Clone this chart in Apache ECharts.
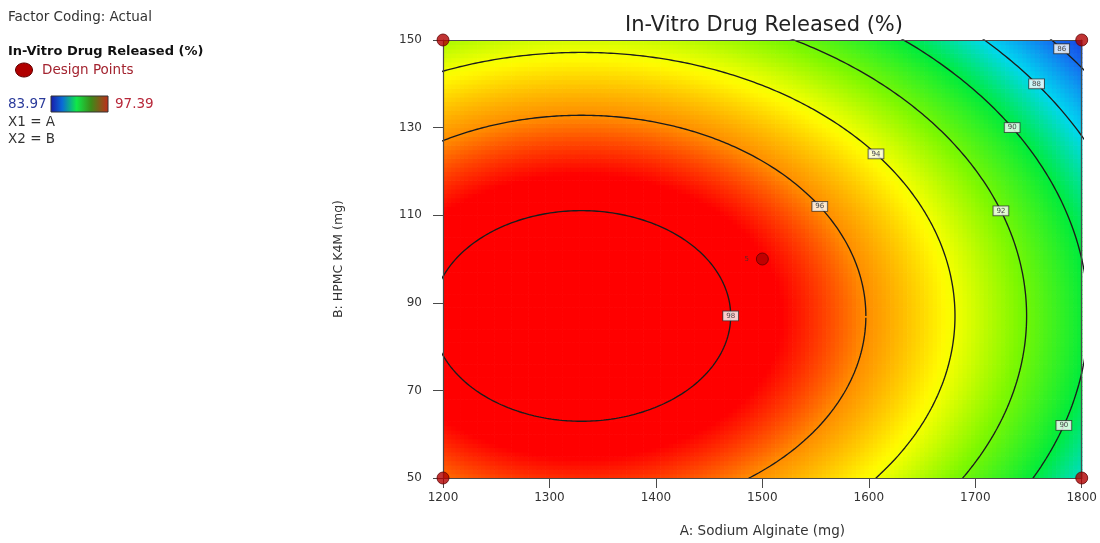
<!DOCTYPE html>
<html><head><meta charset="utf-8">
<script src="https://cdn.jsdelivr.net/npm/echarts@6/dist/echarts.min.js"></script>
<style>html,body{margin:0;padding:0;background:#fff}#c{width:1100px;height:543px}</style>
</head><body><div id="c"></div>
<script>
// ---------------- data ----------------
const chartTitle = 'In-Vitro Drug Released (%)';
const xAxisName = 'A: Sodium Alginate (mg)';
const yAxisName = 'B: HPMC K4M (mg)';
const xTicks = [1200, 1300, 1400, 1500, 1600, 1700, 1800];
const yTicks = [50, 70, 90, 110, 130, 150];
const responseRange = [83.97, 97.39];          // legend colour bar min / max
const contourLevels = [86, 88, 90, 92, 94, 96, 98];
// Fitted quadratic response model (Factor Coding: Actual); terms estimated from contour positions
// R = peak - curvA*(A - centerA)^2 - curvB*(B - centerB)^2
const modelPeak = 98.76;
const modelCenter = [1330, 87];
const modelCurvature = [3.865e-5, 1.315e-3];
// design points
const designA = [1200, 1200, 1800, 1800, 1500];
const designB = [50, 150, 50, 150, 100];
const designReps = [1, 1, 1, 1, 5];
// contour labels: level and the B value where the label sits
const labelLevels = [98, 96, 94, 92, 90, 90, 88, 86];
const labelAtB = [87, 112, 124, 111, 130, 62, 140, 148];
const legendTexts = ['Factor Coding: Actual', 'In-Vitro Drug Released (%)', 'Design Points', 'X1 = A', 'X2 = B'];

// ---------------- build ----------------
const FONT = "'DejaVu Sans', 'Open Sans', sans-serif";
function response(a, b) {
  return modelPeak - modelCurvature[0] * (a - modelCenter[0]) ** 2 - modelCurvature[1] * (b - modelCenter[1]) ** 2;
}
// colour ramp (style)
const rampStops = [[0, [20, 30, 215]], [0.15, [20, 110, 240]], [0.3, [0, 215, 240]], [0.45, [0, 236, 60]],
                   [0.62, [128, 248, 0]], [0.76, [255, 255, 0]], [0.9, [255, 138, 0]], [1, [255, 0, 0]]];
function rampColor(t) {
  for (let i = 1; i < rampStops.length; i++) {
    if (t <= rampStops[i][0]) {
      const [t0, c0] = rampStops[i - 1], [t1, c1] = rampStops[i];
      const f = (t - t0) / (t1 - t0);
      const c = c0.map((v, k) => Math.round(v + (c1[k] - v) * f));
      return 'rgb(' + c.join(',') + ')';
    }
  }
  return 'rgb(255,0,0)';
}
const rampColors = [];
for (let i = 0; i <= 60; i++) rampColors.push(rampColor(i / 60));

const stepA = 4, stepB = 1;
const surface = [];
for (let a = xTicks[0] + stepA / 2; a < xTicks[xTicks.length - 1]; a += stepA) {
  for (let b = yTicks[0] + stepB / 2; b < yTicks[yTicks.length - 1]; b += stepB) {
    surface.push([a, b, response(a, b)]);
  }
}
function contour(level) {
  const r = modelPeak - level;
  const ra = Math.sqrt(r / modelCurvature[0]), rb = Math.sqrt(r / modelCurvature[1]);
  const pts = [];
  for (let i = 0; i <= 720; i++) {
    const t = i / 720 * 2 * Math.PI;
    pts.push([modelCenter[0] + ra * Math.cos(t), modelCenter[1] + rb * Math.sin(t)]);
  }
  return pts;
}
const labelPts = labelLevels.map((lv, i) => {
  const b = labelAtB[i];
  const rem = (modelPeak - lv - modelCurvature[1] * (b - modelCenter[1]) ** 2) / modelCurvature[0];
  return { value: [modelCenter[0] + Math.sqrt(Math.max(rem, 0)), b], name: String(lv) };
});
const designPts = designA.map((a, i) => ({
  value: [a, designB[i]],
  label: { show: designReps[i] > 1, formatter: String(designReps[i]), position: 'left', distance: 7,
           fontSize: 7, color: '#333', fontFamily: FONT }
}));

const series = [
  {
    type: 'custom', name: 'surface', data: surface, dimensions: ['A', 'B', 'R'],
    encode: { x: 0, y: 1 }, clip: true, z: 1, silent: true, animation: false,
    renderItem: function (params, api) {
      const a = api.value(0), b = api.value(1);
      const p0 = api.coord([a - stepA / 2, b + stepB / 2]);
      const p1 = api.coord([a + stepA / 2, b - stepB / 2]);
      return { type: 'rect', shape: { x: p0[0], y: p0[1], width: p1[0] - p0[0] + 0.7, height: p1[1] - p0[1] + 0.7 },
               style: { fill: api.visual('color') } };
    }
  }
];
contourLevels.forEach(lv => {
  series.push({ type: 'line', data: contour(lv), showSymbol: false, symbol: 'none', clip: true, z: 3, silent: true,
                animation: false, lineStyle: { color: '#1c1c1c', width: 1.35 } });
});
series.push({
  type: 'scatter', data: labelPts, symbolSize: 0, z: 4, silent: true, animation: false,
  label: { show: true, position: 'inside', formatter: p => p.name, fontSize: 7, color: '#222', fontFamily: FONT,
           backgroundColor: '#fff', borderColor: '#333', borderWidth: 0.9, padding: [1, 3] }
});
series.push({
  type: 'scatter', data: designPts, symbol: 'circle', symbolSize: 12, z: 10, animation: false,
  itemStyle: { color: '#b00000', borderColor: '#600000', borderWidth: 1 }
});

const axisCommon = {
  axisLine: { show: true, lineStyle: { color: '#4a4a4a', width: 1.2 } },
  splitLine: { show: false }, z: 5
};
const option = {
  animation: false,
  backgroundColor: '#fff',
  grid: { left: 443, top: 40, width: 642, height: 438, show: false },
  visualMap: {
    show: false, type: 'continuous', min: responseRange[0], max: responseRange[1], dimension: 2, seriesIndex: 0,
    inRange: { color: rampColors },
    outOfRange: { color: '#ff0000' }
  },
  xAxis: [
    Object.assign({}, axisCommon, {
      type: 'value', min: xTicks[0], max: xTicks[xTicks.length - 1], interval: 100,
      axisTick: { show: true, length: 10, customValues: xTicks, lineStyle: { color: '#4a4a4a' } },
      axisLabel: { customValues: xTicks, formatter: v => String(v), margin: 14, fontSize: 12, color: '#333', fontFamily: FONT },
      name: xAxisName, nameLocation: 'middle', nameGap: 46,
      nameTextStyle: { fontSize: 13.5, color: '#333', fontFamily: FONT }
    }),
    Object.assign({}, axisCommon, {
      type: 'value', position: 'top', min: xTicks[0], max: xTicks[xTicks.length - 1],
      axisTick: { show: false }, axisLabel: { show: false }
    })
  ],
  yAxis: [
    Object.assign({}, axisCommon, {
      type: 'value', min: yTicks[0], max: yTicks[yTicks.length - 1], interval: 20,
      axisTick: { show: true, length: 10, customValues: yTicks, lineStyle: { color: '#4a4a4a' } },
      axisLabel: { customValues: yTicks, formatter: v => String(v), margin: 21, fontSize: 12, color: '#333', fontFamily: FONT },
      name: yAxisName, nameLocation: 'middle', nameGap: 98,
      nameTextStyle: { fontSize: 12.5, color: '#333', fontFamily: FONT }
    }),
    Object.assign({}, axisCommon, {
      type: 'value', position: 'right', min: yTicks[0], max: yTicks[yTicks.length - 1],
      axisTick: { show: false }, axisLabel: { show: false }
    })
  ],
  graphic: [
    { type: 'text', x: 764, y: 26, style: { text: chartTitle, font: '21px ' + FONT, fill: '#222', textAlign: 'center', textVerticalAlign: 'middle' } },
    { type: 'text', x: 8, y: 17, style: { text: legendTexts[0], font: '13.5px ' + FONT, fill: '#333', textVerticalAlign: 'middle' } },
    { type: 'text', x: 8, y: 52, style: { text: legendTexts[1], font: 'bold 13px ' + FONT, fill: '#111', textVerticalAlign: 'middle' } },
    { type: 'ellipse', shape: { cx: 24, cy: 70, rx: 8.5, ry: 7 }, style: { fill: '#b00000', stroke: '#600000', lineWidth: 1 } },
    { type: 'text', x: 42, y: 70, style: { text: legendTexts[2], font: '13.5px ' + FONT, fill: '#a3232f', textVerticalAlign: 'middle' } },
    { type: 'text', x: 8, y: 104, style: { text: responseRange[0].toFixed(2), font: '13.5px ' + FONT, fill: '#2b3b9b', textVerticalAlign: 'middle' } },
    { type: 'rect', shape: { x: 51, y: 96, width: 57, height: 16 },
      style: { stroke: '#333', lineWidth: 1,
        fill: { type: 'linear', x: 0, y: 0, x2: 1, y2: 0, colorStops: [
          { offset: 0, color: '#1a1aa8' }, { offset: 0.2, color: '#0a6ad8' }, { offset: 0.45, color: '#10e848' },
          { offset: 0.7, color: '#3c8a18' }, { offset: 1, color: '#c42a1a' }] } } },
    { type: 'text', x: 115, y: 104, style: { text: responseRange[1].toFixed(2), font: '13.5px ' + FONT, fill: '#b8283a', textVerticalAlign: 'middle' } },
    { type: 'text', x: 8, y: 122, style: { text: legendTexts[3], font: '13.5px ' + FONT, fill: '#333', textVerticalAlign: 'middle' } },
    { type: 'text', x: 8, y: 139, style: { text: legendTexts[4], font: '13.5px ' + FONT, fill: '#333', textVerticalAlign: 'middle' } }
  ],
  series: series
};
const chart = echarts.init(document.getElementById('c'), null, { renderer: 'canvas' });
chart.setOption(option);
</script></body></html>
